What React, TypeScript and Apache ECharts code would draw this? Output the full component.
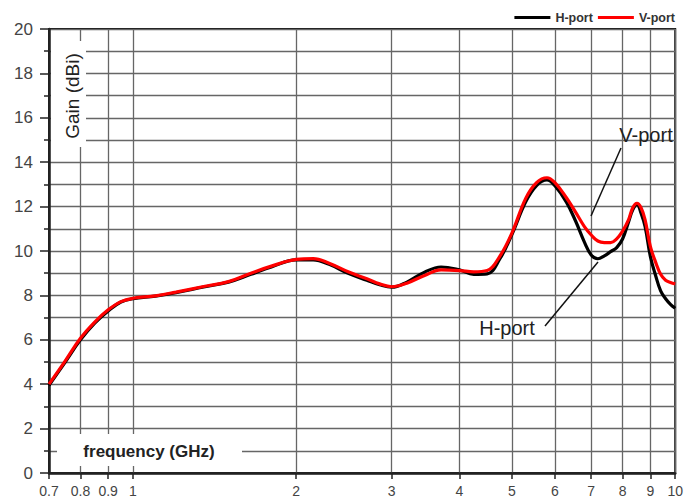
import React, { useEffect, useRef } from "react";
import * as echarts from "echarts";

const freqGHz = [0.7, 0.75, 0.8, 0.85, 0.9, 0.95, 1.0, 1.1, 1.2, 1.35, 1.5, 1.65, 1.8, 2.0, 2.15, 2.3, 2.5, 2.7, 2.85, 3.0, 3.2, 3.45, 3.7, 4.0, 4.25, 4.5, 4.75, 5.0, 5.3, 5.55, 5.8, 6.0, 6.3, 6.55, 6.8, 7.0, 7.2, 7.4, 7.6, 7.8, 8.0, 8.2, 8.35, 8.5, 8.65, 8.8, 9.0, 9.2, 9.4, 9.6, 9.8, 10.0];

const hPortGain = [3.95, 5.0, 6.0, 6.75, 7.3, 7.7, 7.85, 7.97, 8.12, 8.38, 8.6, 8.95, 9.28, 9.6, 9.6, 9.4, 8.98, 8.68, 8.48, 8.37, 8.6, 9.05, 9.28, 9.15, 8.95, 8.97, 9.65, 10.75, 12.22, 12.95, 13.2, 12.94, 12.2, 11.35, 10.4, 9.82, 9.65, 9.78, 9.97, 10.15, 10.55, 11.3, 11.85, 12.1, 11.7, 11.1, 9.75, 8.9, 8.2, 7.85, 7.6, 7.42];

const vPortGain = [4.0, 5.05, 6.07, 6.8, 7.35, 7.72, 7.87, 7.98, 8.15, 8.4, 8.62, 9.0, 9.32, 9.62, 9.66, 9.45, 9.05, 8.75, 8.52, 8.39, 8.55, 8.9, 9.15, 9.12, 9.06, 9.12, 9.77, 10.82, 12.37, 13.08, 13.3, 13.08, 12.4, 11.75, 11.1, 10.72, 10.45, 10.38, 10.38, 10.55, 10.9, 11.4, 11.95, 12.15, 11.95, 11.4, 10.2, 9.5, 8.95, 8.68, 8.58, 8.52];

const xTickValues = [0.7, 0.8, 0.9, 1, 2, 3, 4, 5, 6, 7, 8, 9, 10];

const FONT = "'Liberation Sans', Arial, sans-serif";

export default function App() {
  const ref = useRef<HTMLDivElement>(null);
  useEffect(() => {
    if (!ref.current) return;
    const chart = echarts.init(ref.current, undefined, { renderer: "svg" });
    const logTicks = xTickValues.map((v) => Math.log10(v));
    const xMin = Math.log10(0.7);
    const xMax = Math.log10(10);
    const toPts = (arr: number[]) => freqGHz.map((f, i) => [Math.log10(f), arr[i]]);
    const gridColor = "#666666";

    chart.setOption({
      animation: false,
      backgroundColor: "#ffffff",
      textStyle: { fontFamily: FONT },
      grid: {
        left: 49,
        right: 6,
        top: 29,
        bottom: 30,
        show: true,
        borderColor: "#111",
        borderWidth: 2,
        backgroundColor: "transparent",
      },
      legend: {
        right: 6,
        top: 6,
        icon: "rect",
        itemWidth: 36,
        itemHeight: 3,
        itemGap: 5,
        textStyle: { fontFamily: FONT, fontSize: 12.5, fontWeight: "bold", color: "#333" },
        data: ["H-port", "V-port"],
      },
      xAxis: {
        type: "value",
        min: xMin,
        max: xMax,
        axisLine: { show: true, onZero: false, lineStyle: { color: "#222", width: 2.5 } },
        axisTick: {
          show: true,
          customValues: logTicks,
          length: 6,
          lineStyle: { color: "#222", width: 1.5 },
        },
        axisLabel: {
          customValues: logTicks,
          margin: 11,
          fontSize: 14,
          color: "#444",
          fontFamily: FONT,
          formatter: (v: number) => String(Math.round(Math.pow(10, v) * 10) / 10),
        },
        splitLine: { show: true, lineStyle: { color: gridColor, width: 1.3 } },
      },
      yAxis: {
        type: "value",
        min: 0,
        max: 20,
        interval: 2,
        axisLine: { show: true, onZero: false, lineStyle: { color: "#222", width: 2.5 } },
        axisTick: { show: true, length: 9, lineStyle: { color: "#222", width: 1.5 } },
        minorTick: { show: true, splitNumber: 2, length: 5, lineStyle: { color: "#222", width: 1.5 } },
        axisLabel: { margin: 16, fontSize: 17, color: "#444", fontFamily: FONT },
        splitLine: { show: true, lineStyle: { color: gridColor, width: 1.3 } },
        minorSplitLine: { show: true, lineStyle: { color: gridColor, width: 1.3 } },
      },
      graphic: [
        { type: "rect", z: 1, shape: { x: 51, y: 41, width: 35, height: 106 }, style: { fill: "#fff" } },
        {
          type: "text",
          z: 2,
          x: 72,
          y: 96,
          rotation: Math.PI / 2,
          style: {
            text: "Gain (dBi)",
            fontSize: 19,
            fontFamily: FONT,
            fill: "#222",
            align: "center",
            verticalAlign: "middle",
          },
        },
        { type: "rect", z: 1, shape: { x: 57, y: 434, width: 185, height: 32 }, style: { fill: "#fff" } },
        {
          type: "text",
          z: 2,
          x: 149,
          y: 451,
          style: {
            text: "frequency (GHz)",
            fontSize: 17,
            fontWeight: "bold",
            fontFamily: FONT,
            fill: "#222",
            align: "center",
            verticalAlign: "middle",
          },
        },
        {
          type: "text",
          z: 3,
          x: 646,
          y: 135,
          style: {
            text: "V-port",
            fontSize: 20,
            fontFamily: FONT,
            fill: "#222",
            align: "center",
            verticalAlign: "middle",
          },
        },
        {
          type: "line",
          z: 3,
          shape: { x1: 621, y1: 148, x2: 591, y2: 216 },
          style: { stroke: "#111", lineWidth: 1.5 },
        },
        {
          type: "text",
          z: 3,
          x: 507,
          y: 328,
          style: {
            text: "H-port",
            fontSize: 20,
            fontFamily: FONT,
            fill: "#222",
            align: "center",
            verticalAlign: "middle",
          },
        },
        {
          type: "line",
          z: 3,
          shape: { x1: 545, y1: 326, x2: 598, y2: 262 },
          style: { stroke: "#111", lineWidth: 1.5 },
        },
      ],
      series: [
        {
          name: "H-port",
          type: "line",
          data: toPts(hPortGain),
          smooth: 0.4,
          showSymbol: false,
          symbol: "none",
          color: "#000000",
          lineStyle: { color: "#000000", width: 3.2 },
          z: 3,
        },
        {
          name: "V-port",
          type: "line",
          data: toPts(vPortGain),
          smooth: 0.4,
          showSymbol: false,
          symbol: "none",
          color: "#ff0000",
          lineStyle: { color: "#ff0000", width: 3.2 },
          z: 4,
        },
      ],
    });
    return () => chart.dispose();
  }, []);

  return (
    <div
      ref={ref}
      style={{ position: "fixed", left: 0, top: 0, width: 686, height: 503, background: "#fff" }}
    />
  );
}
